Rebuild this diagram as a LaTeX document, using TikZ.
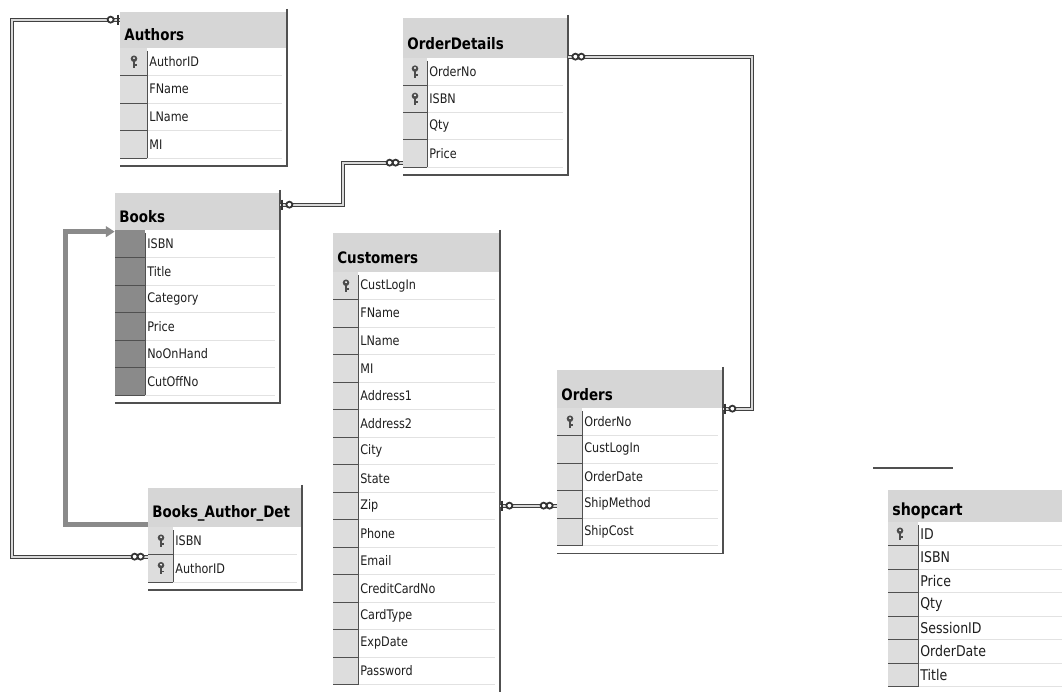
\documentclass[tikz,border=0pt]{standalone}
\usepackage{fontspec}
\setmainfont[FakeStretch=0.85]{DejaVu Sans}
\usetikzlibrary{arrows.meta,positioning,calc,fit}

\definecolor{headgray}{HTML}{D6D6D6}
\definecolor{keygray}{HTML}{DDDDDD}
\definecolor{selgray}{HTML}{8A8A8A}
\definecolor{rowline}{HTML}{E2E2E2}
\definecolor{edgegray}{HTML}{505050}
\definecolor{textdark}{HTML}{1E1E1E}

% one table: name, top left, width, header height, row height,
% rows, key column width, title, fields
\newcommand{\erdtable}[9]{%
  \begin{scope}[shift={#2}]
    \pgfmathsetmacro{\rowsend}{#4+#5*#6}
    \pgfmathsetmacro{\tblend}{\rowsend+8}
    \fill[white] (0,0) rectangle (#3,\tblend);
    \fill[headgray] (0,0) rectangle (#3,#4);
    \fill[keyfill] (0,#4) rectangle (#7,\rowsend);
    \foreach \fld [count=\i] in {#9} {
      \draw[rowsep] (#7,{#4+\i*#5}) -- (#3-5,{#4+\i*#5});
      \draw[keysep] (0,{#4+\i*#5}) -- (#7,{#4+\i*#5});
      \node[fieldtext] (#1-\i) at (#7+2,{#4+(\i-0.5)*#5}) {\fld};
    }
    \draw[keysep] (#7,#4+3) -- (#7,\rowsend);
    \node[titletext] (#1-title) at (4,0.64*#4) {#8};
    \draw[tblborder] (#3,-3) -- (#3,\tblend) -- (0,\tblend);
    \coordinate (#1-nw) at (0,0);
    \coordinate (#1-se) at (#3,\tblend);
    \node[fit=(#1-nw)(#1-se),inner sep=0pt] (#1) {};
  \end{scope}}

\begin{document}
\begin{tikzpicture}[
  x=0.02cm,y=-0.02cm,
  keyfill/.style={fill=keygray},
  rowsep/.style={draw=rowline,line width=0.5pt},
  keysep/.style={draw=edgegray,line width=0.5pt},
  tblborder/.style={draw=edgegray,line width=0.8pt},
  fieldtext/.style={anchor=west,inner sep=0pt,text=textdark,font=\fontsize{7.5}{9}\selectfont},
  titletext/.style={anchor=west,inner sep=0pt,text=black,font=\fontsize{9}{10}\selectfont\bfseries},
  rel/.style={draw=black!75,double=black!15,double distance=1.2pt,line width=0.6pt},
  selrel/.style={draw=selgray,line width=2.6pt,-{Triangle[length=5pt,width=6pt]}},
  endmark/.style={draw=black!80,line width=1pt,fill=white},
  oneend/.pic={\draw[black!80,line width=1pt] (-2,-5) -- (-2,5);
               \draw[endmark] (-9,0) circle (3);},
  manyend/.pic={\draw[endmark] (-7,0) circle (3) (-13,0) circle (3);},
  keyicon/.pic={\fill[black!70] (0,-3) circle (3.3);
                \fill[white] (0,-3.6) circle (1.1);
                \fill[black!70] (-1.2,-1) rectangle (1.2,6);
                \fill[black!70] (1.2,2.5) rectangle (2.6,4);}
]
\useasboundingbox (0,0) rectangle (1062,692);
\clip (0,0) rectangle (1062,692);
\fill[white] (0,0) rectangle (1062,692);

% ---------------- tables ----------------
\erdtable{authors}{(120,12)}{167}{36}{27.5}{4}{27}{Authors}{AuthorID,FName,LName,MI}
\erdtable{orderdetails}{(403,18)}{165}{40}{27.3}{4}{24}{OrderDetails}{OrderNo,ISBN,Qty,Price}
\begin{scope}[keyfill/.style={fill=selgray}]
  \erdtable{books}{(115,193)}{165}{37}{27.5}{6}{30}{Books}{ISBN,Title,Category,Price,NoOnHand,CutOffNo}
\end{scope}
\erdtable{bad}{(148,488)}{154}{39}{27.5}{2}{25}{Books\_Author\_Det}{ISBN,AuthorID}
\erdtable{customers}{(333,233)}{167}{39}{27.5}{15}{25}{Customers}{CustLogIn,FName,LName,MI,Address1,Address2,City,State,Zip,Phone,Email,CreditCardNo,CardType,ExpDate,Password}
\erdtable{orders}{(557,370)}{166}{38}{27.5}{5}{25}{Orders}{OrderNo,CustLogIn,OrderDate,ShipMethod,ShipCost}
\begin{scope}[
  fieldtext/.style={anchor=west,inner sep=0pt,text=textdark,font=\fontsize{8.4}{10}\selectfont},
  titletext/.style={anchor=west,inner sep=0pt,text=black,font=\fontsize{9.5}{11}\selectfont\bfseries}]
  \erdtable{shopcart}{(888,490)}{200}{32}{23.5}{7}{30}{shopcart}{ID,ISBN,Price,Qty,SessionID,OrderDate,Title}
\end{scope}

% key icons
\pic at ($(authors-1.west)+(-15,0)$) {keyicon};
\pic at ($(orderdetails-1.west)+(-14,0)$) {keyicon};
\pic at ($(orderdetails-2.west)+(-14,0)$) {keyicon};
\pic at ($(bad-1.west)+(-14,0)$) {keyicon};
\pic at ($(bad-2.west)+(-14,0)$) {keyicon};
\pic at ($(customers-1.west)+(-14,0)$) {keyicon};
\pic at ($(orders-1.west)+(-14,0)$) {keyicon};
\pic at ($(shopcart-1.west)+(-20,0)$) {keyicon};

% ---------------- relations ----------------
\draw[rel] ($(authors.north west)+(0,8)$) coordinate (authors-end)
  -- ++(-108,0) |- ($(bad.north west)+(0,69)$) coordinate (bad-end);
\pic at (authors-end) {oneend};
\pic at (bad-end) {manyend};

\draw[selrel] ($(bad.north west)+(0,37)$) -- ++(-82,0) |- ($(books.north west)+(0,39)$);

\draw[rel] ($(books.north east)+(0,12)$) coordinate (books-end)
  -- ++(63,0) |- ($(orderdetails.north west)+(0,145)$) coordinate (od-end1);
\pic[xscale=-1] at (books-end) {oneend};
\pic at (od-end1) {manyend};

\draw[rel] ($(orderdetails.north east)+(0,39)$) coordinate (od-end2)
  -- ++(184,0) |- ($(orders.north east)+(0,39)$) coordinate (orders-end1);
\pic[xscale=-1] at (od-end2) {manyend};
\pic[xscale=-1] at (orders-end1) {oneend};

\draw[rel] ($(customers.north east)+(0,273)$) coordinate (cust-end)
  -- ($(orders.north west)+(0,136)$) coordinate (orders-end2);
\pic[xscale=-1] at (cust-end) {oneend};
\pic at (orders-end2) {manyend};

% stray line above shopcart
\draw[edgegray,line width=0.6pt] (873,468) -- (953,468);
\end{tikzpicture}
\end{document}
